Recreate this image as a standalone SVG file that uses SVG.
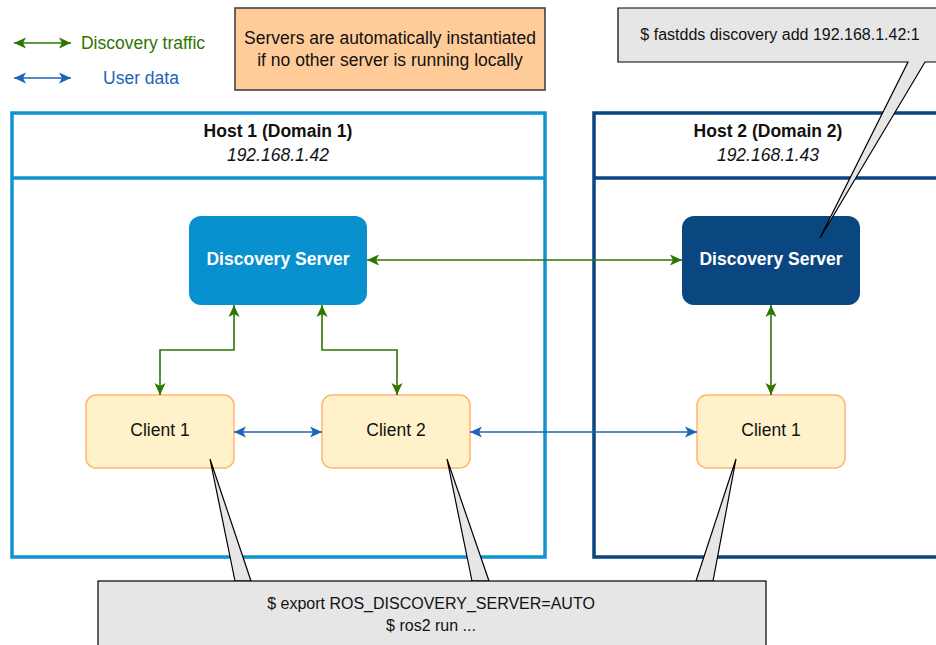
<svg xmlns="http://www.w3.org/2000/svg" width="936" height="645" viewBox="0 0 936 645">
<defs>
<marker id="ag" markerUnits="userSpaceOnUse" markerWidth="14" markerHeight="12" viewBox="0 0 14 12" refX="13" refY="6" orient="auto-start-reverse"><path d="M1,0.5 L13,6 L1,11.5 L4,6 Z" fill="#2d7600"/></marker>
<marker id="ab" markerUnits="userSpaceOnUse" markerWidth="14" markerHeight="12" viewBox="0 0 14 12" refX="13" refY="6" orient="auto-start-reverse"><path d="M1,0.5 L13,6 L1,11.5 L4,6 Z" fill="#1f63b8"/></marker>
</defs>
<style>
text{font-family:"Liberation Sans",Arial,Helvetica,sans-serif;text-anchor:middle}
.t{font-size:17.5px;fill:#111}
.b{font-weight:bold}
.i{font-style:italic}
.ds{font-size:17.5px;font-weight:bold;fill:#fff}
.cl{fill:#fff1c9;stroke:#ffb570;stroke-width:1.5}
.co{fill:#e6e6e6;stroke:#000;stroke-width:1.2}
.g{fill:none;stroke:#2d7600;stroke-width:1.6;marker-start:url(#ag);marker-end:url(#ag)}
.u{fill:none;stroke:#1f63b8;stroke-width:1.6;marker-start:url(#ab);marker-end:url(#ab)}
</style>
<rect width="936" height="645" fill="#fff"/>

<g id="legend">
<path class="g" d="M14,43 H71"/>
<text x="143" y="49" class="t" style="fill:#2d7600">Discovery traffic</text>
<path class="u" d="M14,78 H71"/>
<text x="141" y="84" class="t" style="fill:#1f63b8">User data</text>
</g>

<g id="note">
<rect x="235" y="8" width="310" height="82" fill="#ffcc99" stroke="#36393d" stroke-width="1.5"/>
<text x="390" y="44" class="t">Servers are automatically instantiated</text>
<text x="390" y="66" class="t">if no other server is running locally</text>
</g>

<g id="host1">
<rect x="12" y="113" width="533" height="444" fill="#fff" stroke="#0f93d2" stroke-width="3.5"/>
<line x1="12" y1="178" x2="545" y2="178" stroke="#0f93d2" stroke-width="3.5"/>
<text x="278" y="137" class="t b">Host 1 (Domain 1)</text>
<text x="278" y="161" class="t i">192.168.1.42</text>
</g>

<g id="host2">
<rect x="594" y="113" width="360" height="444" fill="#fff" stroke="#0a4680" stroke-width="3.5"/>
<line x1="594" y1="178" x2="954" y2="178" stroke="#0a4680" stroke-width="3.5"/>
<text x="768" y="137" class="t b">Host 2 (Domain 2)</text>
<text x="768" y="161" class="t i">192.168.1.43</text>
</g>

<g id="ds1">
<rect x="189" y="216" width="178" height="89" rx="12" fill="#0890cf"/>
<text x="278" y="265" class="ds">Discovery Server</text>
</g>

<g id="ds2">
<rect x="682" y="216" width="178" height="89" rx="12" fill="#0a4680"/>
<text x="771" y="265" class="ds">Discovery Server</text>
</g>

<g id="client1">
<rect x="86" y="395" width="148" height="73" rx="10" class="cl"/>
<text x="160" y="436" class="t">Client 1</text>
</g>
<g id="client2">
<rect x="322" y="395" width="148" height="73" rx="10" class="cl"/>
<text x="396" y="436" class="t">Client 2</text>
</g>
<g id="client3">
<rect x="697" y="395" width="148" height="73" rx="10" class="cl"/>
<text x="771" y="436" class="t">Client 1</text>
</g>

<g id="connectors">
<path class="g" d="M234,305 V350 H160 V395"/>
<path class="g" d="M322,305 V350 H397 V395"/>
<path class="g" d="M367,260 H682"/>
<path class="g" d="M771,305 V395"/>
<path class="u" d="M234,432 H322"/>
<path class="u" d="M470,432 H697"/>
</g>

<g id="callout-top">
<path class="co" d="M618,8 H960 V62 H925 L820,238 L908,62 H618 Z"/>
<text x="780" y="40" style="font-size:16px;fill:#111">$ fastdds discovery add 192.168.1.42:1</text>
</g>

<g id="callout-bottom">
<path class="co" d="M235,581 L210,459 L251,581 Z"/>
<path class="co" d="M472,581 L447,459 L489,581 Z"/>
<path class="co" d="M696,581 L736,459 L713,581 Z"/>
<rect class="co" x="98" y="581" width="668" height="80"/>
<text x="431" y="609" style="font-size:16px;fill:#111">$ export ROS_DISCOVERY_SERVER=AUTO</text>
<text x="431" y="631" style="font-size:16px;fill:#111">$ ros2 run ...</text>
</g>
</svg>
